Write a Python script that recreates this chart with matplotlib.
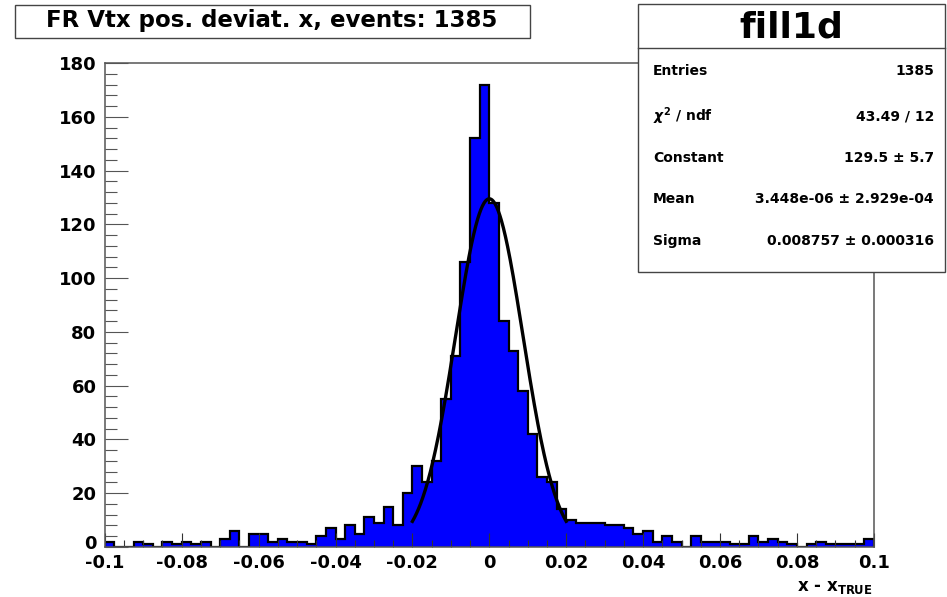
import numpy as np
import matplotlib
matplotlib.use('Agg')
import matplotlib.pyplot as plt
import matplotlib.transforms as mtransforms
from matplotlib.patches import Rectangle
from matplotlib.lines import Line2D
from matplotlib.ticker import MultipleLocator, FixedLocator

plt.rcParams['font.family'] = ['DejaVu Sans']
plt.rcParams['font.weight'] = 'bold'
plt.rcParams['mathtext.fontset'] = 'dejavusans'

# ---------------- data ----------------
x_min, x_max, n_bins = -0.1, 0.1, 80
counts = [
    2, 0, 0, 2, 1, 0, 2, 1, 2, 1,
    2, 0, 3, 6, 0, 5, 5, 2, 3, 2,
    2, 1, 4, 7, 3, 8, 5, 11, 9, 15,
    8, 20, 30, 24, 32, 55, 71, 106, 152, 172,
    128, 84, 73, 58, 42, 26, 24, 14, 10, 9,
    9, 9, 8, 8, 7, 5, 6, 2, 4, 2,
    0, 4, 2, 2, 2, 1, 1, 4, 2, 3,
    2, 1, 0, 1, 2, 1, 1, 1, 1, 3,
]
x_ticks = [-0.1, -0.08, -0.06, -0.04, -0.02, 0.0, 0.02, 0.04, 0.06, 0.08, 0.1]
x_tick_labels = ['-0.1', '-0.08', '-0.06', '-0.04', '-0.02', '0',
                 '0.02', '0.04', '0.06', '0.08', '0.1']
y_ticks = [0, 20, 40, 60, 80, 100, 120, 140, 160, 180]
y_tick_labels = ['0', '20', '40', '60', '80', '100', '120', '140', '160', '180']

fit_constant = 129.5
fit_mean = 3.448e-06
fit_sigma = 0.008757
fit_range = [-0.02, 0.02]

title_text = 'FR Vtx pos. deviat. x, events: 1385'
stats_name = 'fill1d'
stat_labels = ['Entries', r'$\chi^{2}$ / ndf', 'Constant', 'Mean', 'Sigma']
stat_values = ['1385', '43.49 / 12', '129.5 \u00b1 5.7',
               '3.448e-06 \u00b1 2.929e-04', '0.008757 \u00b1 0.000316']
x_label = r'x - x$_{\mathbf{TRUE}}$'

# ---------------- layout ----------------
W, H = 947, 597
fig = plt.figure(figsize=(W / 100, H / 100), dpi=100)
fig.patch.set_facecolor('white')

def fx(x):
    return x / W

def fy(y):
    return 1 - y / H

ax_l, ax_r, ax_t, ax_b = 104.8, 873.8, 63, 547
ax = fig.add_axes([fx(ax_l), fy(ax_b), (ax_r - ax_l) / W, (ax_b - ax_t) / H])

edges = np.linspace(x_min, x_max, n_bins + 1)
ax.stairs(counts, edges, fill=True, facecolor='#0000ff', edgecolor='none', zorder=1)
ax.stairs(counts, edges, color='black', linewidth=1.6, zorder=1.2)

xs = np.linspace(fit_range[0], fit_range[1], 300)
ys = fit_constant * np.exp(-0.5 * ((xs - fit_mean) / fit_sigma) ** 2)
ax.plot(xs, ys, color='black', linewidth=2.4, zorder=3)

ax.set_xlim(x_min, x_max)
ax.set_ylim(0, 180)

frame_col = '#555555'
for s in ax.spines.values():
    s.set_color(frame_col)
    s.set_linewidth(1.1)

ax.xaxis.set_major_locator(FixedLocator(x_ticks))
ax.set_xticklabels(x_tick_labels)
ax.xaxis.set_minor_locator(MultipleLocator(0.005))
ax.yaxis.set_major_locator(FixedLocator(y_ticks))
ax.set_yticklabels(y_tick_labels)
ax.yaxis.set_minor_locator(MultipleLocator(4))

ax.tick_params(axis='x', which='major', direction='in', length=10, width=0.8,
               color='#333333', pad=5, labelsize=13)
ax.tick_params(axis='x', which='minor', direction='in', length=5, width=0.8,
               color='#333333')
ax.tick_params(axis='y', which='major', direction='in', length=16.5, width=0.8,
               color=frame_col, pad=6, labelsize=13)
ax.tick_params(axis='y', which='minor', direction='in', length=8.3, width=0.8,
               color=frame_col)
for lab in ax.get_xticklabels() + ax.get_yticklabels():
    lab.set_fontweight('bold')

# lift the "0" label on the y axis a little so it clears the "-0.1" label
zero_lab = ax.get_yticklabels()[0]
zero_lab.set_transform(zero_lab.get_transform() +
                       mtransforms.ScaledTranslation(0, 5 / 100, fig.dpi_scale_trans))

# x axis title
fig.text(fx(873), fy(591), x_label, ha='right', va='baseline', fontsize=12,
         fontweight='bold')

# title box
box_col = '#444444'
fig.add_artist(Rectangle((fx(15), fy(38)), (530 - 15) / W, (38 - 5) / H,
                         transform=fig.transFigure, facecolor='white',
                         edgecolor=box_col, linewidth=1.0, zorder=5))
fig.text(fx(272), fy(21), title_text, ha='center', va='center', fontsize=16.5,
         fontweight='bold', zorder=6)

# stats box
sb_l, sb_r, sb_t, sb_b, sb_div = 638, 945, 4, 272, 48
fig.add_artist(Rectangle((fx(sb_l), fy(sb_b)), (sb_r - sb_l) / W, (sb_b - sb_t) / H,
                         transform=fig.transFigure, facecolor='white',
                         edgecolor=box_col, linewidth=1.0, zorder=5))
fig.add_artist(Line2D([fx(sb_l), fx(sb_r)], [fy(sb_div), fy(sb_div)],
                      transform=fig.transFigure, color=box_col, linewidth=1.0,
                      zorder=6))
fig.text(fx((sb_l + sb_r) / 2), fy(27), stats_name, ha='center', va='center',
         fontsize=26, fontweight='bold', zorder=6)
row_y = [71, 116, 158, 199, 241]
for lab, val, yy in zip(stat_labels, stat_values, row_y):
    fig.text(fx(653), fy(yy), lab, ha='left', va='center', fontsize=10,
             fontweight='bold', zorder=6)
    fig.text(fx(934), fy(yy), val, ha='right', va='center', fontsize=10,
             fontweight='bold', zorder=6)

fig.savefig('out.png', dpi=100, facecolor='white')
